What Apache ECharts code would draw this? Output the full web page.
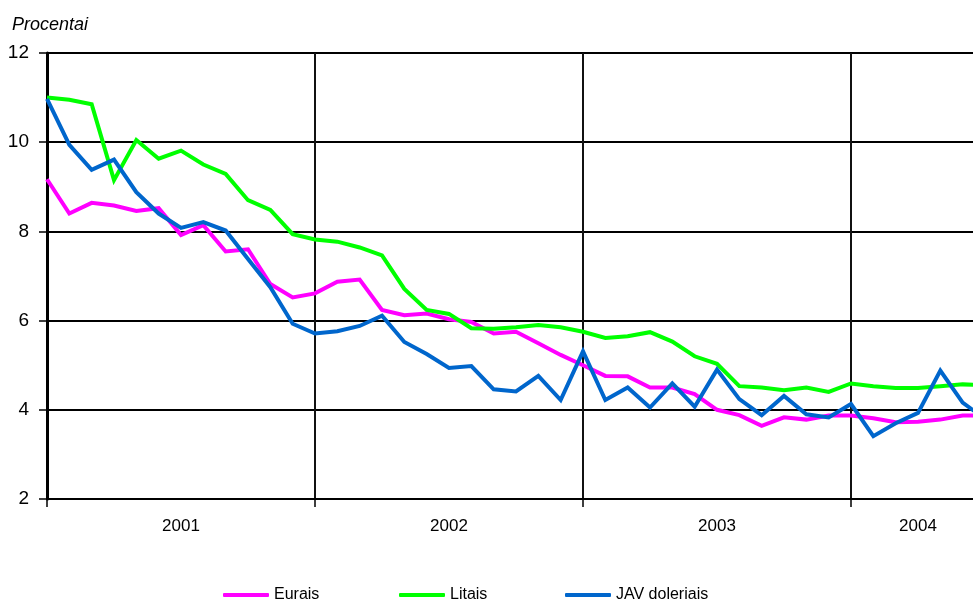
<!DOCTYPE html>
<html>
<head>
<meta charset="utf-8">
<title>Palūkanų normos</title>
<script src="https://cdn.jsdelivr.net/npm/echarts@6.0.0/dist/echarts.min.js"></script>
<style>
    html, body { margin: 0; padding: 0; background: #fff; }
    #main { width: 973px; height: 600px; }
</style>
</head>
<body>
<div id="main"></div>
<script>
// men. 2001-01 ... 2004-07
var months = [];
for (var y = 2001; y <= 2004; y++) {
    for (var m = 1; m <= 12; m++) {
        if (y == 2004 && m > 7) break;
        months.push(y + '-' + (m < 10 ? '0' + m : m));
    }
}
var years = ['2001', '2002', '2003', '2004'];
var yearLabelIdx = [6, 18, 30, 39];

var eurais = [9.17, 8.40, 8.64, 8.58, 8.46, 8.52, 7.92, 8.14, 7.55, 7.60, 6.82, 6.52,
    6.61, 6.87, 6.92, 6.24, 6.12, 6.16, 6.03, 5.97, 5.71, 5.75, 5.49, 5.23,
    5.00, 4.76, 4.75, 4.50, 4.50, 4.35, 4.00, 3.88, 3.64, 3.83, 3.78, 3.87,
    3.87, 3.81, 3.72, 3.73, 3.78, 3.87, 3.88];
var litais = [11.00, 10.95, 10.85, 9.15, 10.05, 9.63, 9.81, 9.50, 9.29, 8.70, 8.48, 7.94,
    7.82, 7.77, 7.64, 7.46, 6.71, 6.24, 6.15, 5.83, 5.82, 5.85, 5.90, 5.85,
    5.75, 5.61, 5.65, 5.74, 5.53, 5.20, 5.03, 4.53, 4.50, 4.44, 4.50, 4.40,
    4.59, 4.53, 4.49, 4.49, 4.53, 4.57, 4.55];
var doleriais = [10.97, 9.94, 9.38, 9.61, 8.88, 8.40, 8.08, 8.21, 8.02, 7.38, 6.75, 5.93,
    5.71, 5.76, 5.88, 6.11, 5.52, 5.25, 4.94, 4.98, 4.46, 4.41, 4.76, 4.22,
    5.31, 4.22, 4.50, 4.05, 4.59, 4.07, 4.90, 4.24, 3.88, 4.31, 3.90, 3.83,
    4.13, 3.41, 3.70, 3.93, 4.88, 4.16, 3.80];

var chart = echarts.init(document.getElementById('main'));
var font = 'Liberation Sans, Arial, sans-serif';

function mkLine(name, data, color) {
    return {
        name: name,
        type: 'line',
        data: data,
        showSymbol: false,
        symbol: 'none',
        lineStyle: { color: color, width: 4, join: 'miter' },
        itemStyle: { color: color },
        animation: false
    };
}

function mkLegend(name, left) {
    return {
        left: left,
        top: 582,
        itemWidth: 46,
        itemHeight: 4,
        icon: 'roundRect',
        textStyle: { fontFamily: font, fontSize: 16, color: '#000' },
        data: [name]
    };
}

chart.setOption({
    animation: false,
    title: {
        text: 'Procentai',
        left: 7,
        top: 11,
        textStyle: { fontFamily: font, fontSize: 18, fontStyle: 'italic', fontWeight: 'normal', color: '#000' }
    },
    // axis continues past the right edge of the picture (Jul 2004)
    grid: { left: 47, top: 53, bottom: 101, width: 938, containLabel: false, outerBoundsMode: 'none' },
    legend: [
        mkLegend('Eurais', 218),
        mkLegend('Litais', 394),
        mkLegend('JAV doleriais', 560)
    ],
    xAxis: {
        type: 'category',
        data: months,
        boundaryGap: false,
        axisLine: { lineStyle: { color: '#000', width: 2 } },
        axisTick: {
            show: true, length: 8, lineStyle: { color: '#000', width: 1.5 },
            interval: function (i) { return i % 12 === 0; }
        },
        splitLine: {
            show: true, lineStyle: { color: '#111', width: 2 },
            interval: function (i) { return i % 12 === 0 && i > 0; }
        },
        axisLabel: {
            interval: function (i) { return yearLabelIdx.indexOf(i) >= 0; },
            formatter: function (v, i) { return years[yearLabelIdx.indexOf(i)] || v.slice(0, 4); },
            margin: 19,
            fontFamily: font, fontSize: 17, color: '#000'
        }
    },
    yAxis: {
        type: 'value',
        min: 2,
        max: 12,
        interval: 2,
        axisLine: { show: true, lineStyle: { color: '#000', width: 3 } },
        axisTick: { show: true, length: 8, lineStyle: { color: '#000', width: 1.5 } },
        splitLine: { show: true, lineStyle: { color: '#000', width: 2 } },
        axisLabel: { margin: 18, fontFamily: font, fontSize: 19, color: '#000' }
    },
    series: [
        mkLine('Eurais', eurais, '#ff00ff'),
        mkLine('Litais', litais, '#00ff00'),
        mkLine('JAV doleriais', doleriais, '#0066cc')
    ]
});
</script>
</body>
</html>
